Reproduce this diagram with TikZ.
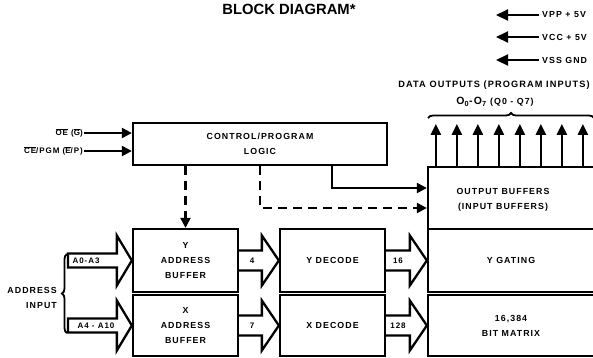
\documentclass[tikz,border=0pt]{standalone}
\usepackage{fontspec}
\setmainfont{Liberation Sans}
\newfontfamily\lbl{Liberation Sans}[LetterSpace=12]
\usetikzlibrary{arrows.meta,calc,decorations.pathreplacing}
\newcommand\fatarr[3]{\draw[fatline] let \p1=(#1), \p2=(#2) in (\x1,\y2+#3pt) -- (\x2-17pt,\y2+#3pt) -- (\x2-17pt,\y2+25pt) -- (\x2,\y2) -- (\x2-17pt,\y2-25pt) -- (\x2-17pt,\y2-#3pt) -- (\x1,\y2-#3pt);}
\newcommand\fatarrc[3]{\draw[fatline] let \p1=(#1), \p2=(#2) in (\x1,\y2+#3pt) -- (\x2-15pt,\y2+#3pt) -- (\x2-15pt,\y2+25pt) -- (\x2,\y2) -- (\x2-15pt,\y2-25pt) -- (\x2-15pt,\y2-#3pt) -- (\x1,\y2-#3pt) -- cycle;}
\newcommand\ovl[1]{$\overline{\mbox{#1}}$}
\begin{document}
\begin{tikzpicture}[x=1pt,y=-1pt,
 box/.style={draw,line width=2.3pt,inner sep=0pt,align=center,font=\lbl\bfseries\fontsize{8.8}{15}\selectfont},
 txt/.style={inner sep=0pt,align=center,font=\lbl\bfseries\fontsize{8.8}{15}\selectfont},
 small/.style={inner sep=1pt,font=\lbl\bfseries\fontsize{8}{10}\selectfont},
 sig/.style={line width=2.2pt,-{Triangle[length=10pt,width=10pt]}},
 dsig/.style={sig,dash pattern=on 9pt off 6pt},
 pwr/.style={line width=2.2pt,-{Triangle[length=12pt,width=11pt]}},
 fatline/.style={line width=2.3pt,line join=miter},
 brc/.style={line width=1.8pt,decorate,decoration={brace,amplitude=5pt}}]
\useasboundingbox (0,0) rectangle (593,357);

% title
\node[inner sep=0pt,font=\bfseries\fontsize{14.8}{16}\selectfont] (title) at (289,9) {BLOCK DIAGRAM*};

% power
\node[txt,anchor=west,inner sep=3pt] (vpp) at (539,15) {VPP + 5V};
\node[txt,anchor=west,inner sep=3pt] (vcc) at (539,37) {VCC + 5V};
\node[txt,anchor=west,inner sep=3pt] (vss) at (539,60) {VSS GND};
\coordinate (vppend) at (496,15);
\coordinate (vccend) at (496,37);
\coordinate (vssend) at (496,60);
\draw[pwr] (vpp.west) -- (vppend);
\draw[pwr] (vcc.west) -- (vccend);
\draw[pwr] (vss.west) -- (vssend);

% data outputs label
\node[txt,font=\lbl\bfseries\fontsize{9.2}{11}\selectfont] (dout) at (494,85) {DATA OUTPUTS (PROGRAM INPUTS)};
\node[txt] (onum) at (495,102) {{\fontsize{10.5}{12}\selectfont O\textsubscript{0}-O\textsubscript{7}} (Q0 - Q7)};

% boxes
\node[box,minimum width=254,minimum height=42] (ctrl) at (260,144) {CONTROL/PROGRAM\\LOGIC};
\node[box,minimum width=105,minimum height=63] (yab) at (185.5,260.5) {Y\\ADDRESS\\BUFFER};
\node[box,minimum width=105,minimum height=61] (xab) at (185.5,325.5) {X\\ADDRESS\\BUFFER};
\node[box,minimum width=105,minimum height=63] (yd) at (332.5,260.5) {Y DECODE};
\node[box,minimum width=105,minimum height=61] (xd) at (332.5,325.5) {X DECODE};
\node[box,minimum width=166,minimum height=62] (ob) at (511,198) {};
\node[txt] (oblbl) at (503,200) {OUTPUT BUFFERS\\(INPUT BUFFERS)};
\node[box,minimum width=166,minimum height=63] (yg) at (511,260.5) {Y GATING};
\node[box,minimum width=166,minimum height=61] (bm) at (511,325.5) {16,384\\BIT MATRIX};

% data output arrows and brace
\foreach \i in {0,...,7}
  \draw[line width=2.2pt,-{Triangle[length=11pt,width=10pt]}] ([xshift={(9+21*\i)*1pt}]ob.north west) -- ++(0,-42);
\draw[brc] (428,118) -- (594,118);

% control inputs
\node[small,anchor=east] (oe) at (84,133) {\ovl{OE} (\ovl{G})};
\node[small,anchor=east] (ce) at (84,151) {\ovl{CE}/PGM (\ovl{E}/P)};
\draw[sig] (oe.east) -- (ctrl.west |- oe.east);
\draw[sig] (ce.east) -- (ctrl.west |- ce.east);

% control outputs
\draw[dsig] (yab.north |- ctrl.south) -- (yab.north);
\draw[dsig] (ctrl.south) |- ([yshift=-10pt]ob.west);
\draw[sig] ([xshift=72pt]ctrl.south) |- ([yshift=10pt]ob.west);

% fat arrows
\coordinate (a03) at (68,262);
\coordinate (a410) at (68,325);
\fatarrc{a03}{yab.west}{7}
\fatarrc{a410}{xab.west}{7}
\fatarr{yab.east}{yd.west}{10}
\fatarr{xab.east}{xd.west}{10}
\fatarr{yd.east}{yg.west}{10}
\fatarr{xd.east}{bm.west}{10}
\node[small,inner sep=0pt] (la03) at (86,260.5) {A0-A3};
\node[small,inner sep=0pt] (la410) at (96,325.5) {A4 - A10};
\node[small,inner sep=0pt] (l4) at (252,260.5) {4};
\node[small,inner sep=0pt] (l7) at (252,325.5) {7};
\node[small,inner sep=0pt] (l16) at (398,260.5) {16};
\node[small,inner sep=0pt] (l128) at (398,325.5) {128};

% address input
\draw[brc] (67,333) -- (67,254);
\node[txt,anchor=east,align=right] (addr) at (57,298) {ADDRESS\\INPUT};
\end{tikzpicture}
\end{document}
